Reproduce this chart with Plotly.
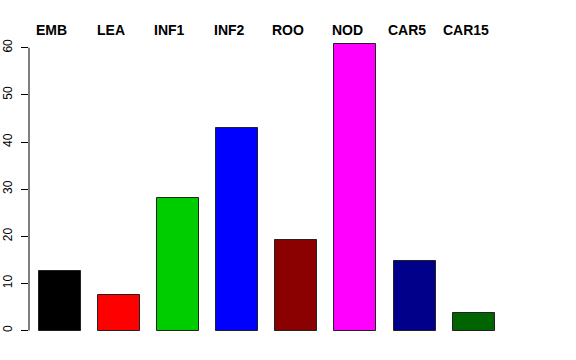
import plotly.graph_objects as go

categories = ["EMB", "LEA", "INF1", "INF2", "ROO", "NOD", "CAR5", "CAR15"]
values = [12.7, 7.5, 28.1, 42.9, 19.2, 60.9, 14.8, 3.8]
colors = ["#000000", "#FF0000", "#00CD00", "#0000FF", "#8B0000", "#FF00FF", "#00008B", "#006400"]
y_ticks = [0, 10, 20, 30, 40, 50, 60]

FONT = "Liberation Sans, Arial, Helvetica, sans-serif"
xpos = list(range(len(categories)))

fig = go.Figure()
fig.add_trace(go.Bar(
    x=xpos, y=values, width=0.71,
    marker=dict(color=colors, line=dict(color="#222222", width=1)),
    showlegend=False, hoverinfo="skip",
))

for i, lab in enumerate(categories):
    fig.add_annotation(
        x=i - 0.135, xref="x", y=1.008, yref="paper",
        text="<b>%s</b>" % lab, showarrow=False,
        xanchor="center", yanchor="middle",
        font=dict(family=FONT, size=14, color="black"),
    )

# R-style axis line that spans only the tick range
fig.add_shape(type="line", xref="paper", yref="y", x0=0, x1=0,
              y0=y_ticks[0], y1=y_ticks[-1], line=dict(color="black", width=1))

fig.update_layout(
    width=576, height=360,
    margin=dict(l=29, r=43, t=31.5, b=17.5, autoexpand=False),
    paper_bgcolor="white", plot_bgcolor="white",
    bargap=0,
    xaxis=dict(range=[-0.517, 8.0], visible=False, fixedrange=True, automargin=False),
    yaxis=dict(
        range=[-2.436, 63.34], tickvals=y_ticks, ticks="outside", ticklen=7,
        tickcolor="black", tickwidth=1, showline=False, showgrid=False,
        zeroline=False, tickangle=-90, ticklabelstandoff=4, automargin=False,
        fixedrange=True,
        tickfont=dict(family=FONT, size=12, color="black"),
    ),
)

fig.write_html("out.html", config={"displayModeBar": False},
               post_script="document.body.style.margin='0';")
